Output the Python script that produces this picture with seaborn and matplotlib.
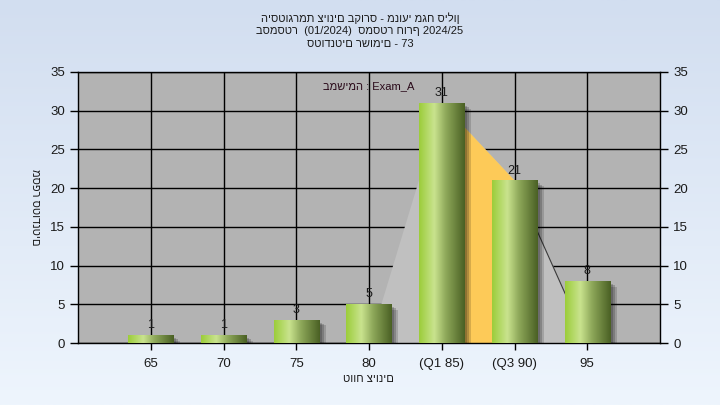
import numpy as np
import pandas as pd
import matplotlib
matplotlib.use("Agg")
import matplotlib.pyplot as plt
import seaborn as sns
from matplotlib.colors import LinearSegmentedColormap
import matplotlib.patheffects as pe

# ---- data ----
categories = ["65", "70", "75", "80", "(Q1 85)", "(Q3 90)", "95"]
counts = [1, 1, 3, 5, 31, 21, 8]
yticks = [0, 5, 10, 15, 20, 25, 30, 35]
curve_cats = ["80", "(Q1 85)", "(Q3 90)", "95"]
curve_vals = [0, 31, 21, 0]
iqr_cats = ["(Q1 85)", "(Q3 90)"]
iqr_vals = [31, 21]
title_lines = [
    "היסטוגרמת ציונים בקורס - מנועי מגח סילון",
    "בסמסטר  (01/2024)  סמסטר חורף 2024/25",
    "סטודנטים רשומים - 73",
]
legend_text = "במשימה : Exam_A"
xlabel = "טווח ציונים"
ylabel = "מספר סטודנטים"

sns.set_theme(style="white")
plt.rcParams["font.family"] = ["Liberation Sans", "DejaVu Sans"]

W, H = 720, 405
fig = plt.figure(figsize=(W / 100, H / 100), dpi=100)

# figure background gradient
bg = fig.add_axes([0, 0, 1, 1], zorder=-10)
grad = np.linspace(0, 1, 256).reshape(-1, 1)
bg_cmap = LinearSegmentedColormap.from_list("bg", ["#d2def0", "#eef5fd"])
bg.imshow(grad, aspect="auto", cmap=bg_cmap, extent=[0, 1, 0, 1], origin="upper")
bg.set_axis_off()

ax = fig.add_axes([78 / W, 1 - 343 / H, (660 - 78) / W, (343 - 72) / H], zorder=1)
ax.set_facecolor("#b3b3b3")

df = pd.DataFrame({"cat": categories, "count": counts})
pos = {c: i for i, c in enumerate(categories)}

sns.barplot(data=df, x="cat", y="count", order=categories, ax=ax,
            color="#9ccc3c", width=0.62, saturation=1, linewidth=0, zorder=3)
bars = list(ax.patches)

# distribution polygon behind bars
cx = [pos[c] for c in curve_cats]
ax.fill_between(cx, 0, curve_vals, color="#c0c0c0", lw=0, zorder=1.5)
ix = [pos[c] for c in iqr_cats]
ax.fill_between(ix, 0, iqr_vals, color="#fdca58", lw=0, zorder=1.6)
ax.plot(cx[2:], curve_vals[2:], color="#3a3a3a", lw=0.8, zorder=1.7)

# cylinder gradient on bars
bar_cmap = LinearSegmentedColormap.from_list(
    "bar", [(0.0, "#9ccd3a"), (0.33, "#c9e38e"), (0.6, "#8ca658"), (1.0, "#4a6024")])
hgrad = np.linspace(0, 1, 128).reshape(1, -1)
for p in bars:
    p.set_linewidth(0)
    p.set_path_effects([
        pe.SimplePatchShadow(offset=(2, -2), shadow_rgbFace="black", alpha=0.18),
        pe.SimplePatchShadow(offset=(3.5, -3), shadow_rgbFace="black", alpha=0.18),
        pe.SimplePatchShadow(offset=(5, -4), shadow_rgbFace="black", alpha=0.15),
        pe.Normal()])
    x, y = p.get_x(), p.get_y()
    w, h = p.get_width(), p.get_height()
    im = ax.imshow(hgrad, extent=[x, x + w, y, y + h], aspect="auto",
                   cmap=bar_cmap, zorder=3.1)
    im.set_clip_path(p)

# value labels
for i, v in enumerate(counts):
    ax.text(i, v + 0.5, str(v), ha="center", va="bottom", fontsize=9, color="#1a1a1a", zorder=5)

ax.set_xlim(-1, len(categories))
ax.set_ylim(0, 35)
ax.set_yticks(yticks)
ax.set_xticks(range(len(categories)))
ax.set_xticklabels(categories)
ax.set_axisbelow(True)
ax.grid(True, color="black", lw=1)
for s in ax.spines.values():
    s.set_visible(True)
    s.set_color("black")
    s.set_linewidth(1)
ax.tick_params(axis="both", direction="out", length=5, width=1, color="black",
               labelsize=9.5, labelcolor="#1a1a1a")
ax.tick_params(axis="y", right=True, labelright=True, left=True, length=6)
ax.tick_params(axis="x", bottom=True, pad=6)
ax.set_xlabel("")
ax.set_ylabel("")

ax.text(3.0, 33.2, legend_text, ha="center", va="center", fontsize=8, color="#2a0a1a", zorder=6)

for k, line in enumerate(title_lines):
    fig.text(360 / W, 1 - (18 + 13 * k) / H, line, ha="center", va="center", fontsize=8, color="#1a1a1a")
fig.text(368 / W, 1 - 379 / H, xlabel, ha="center", va="center", fontsize=8, color="#1a1a1a")
fig.text(35 / W, 1 - 207 / H, ylabel, ha="center", va="center", rotation=270, fontsize=8, color="#1a1a1a")

fig.savefig("out.png", dpi=100)
